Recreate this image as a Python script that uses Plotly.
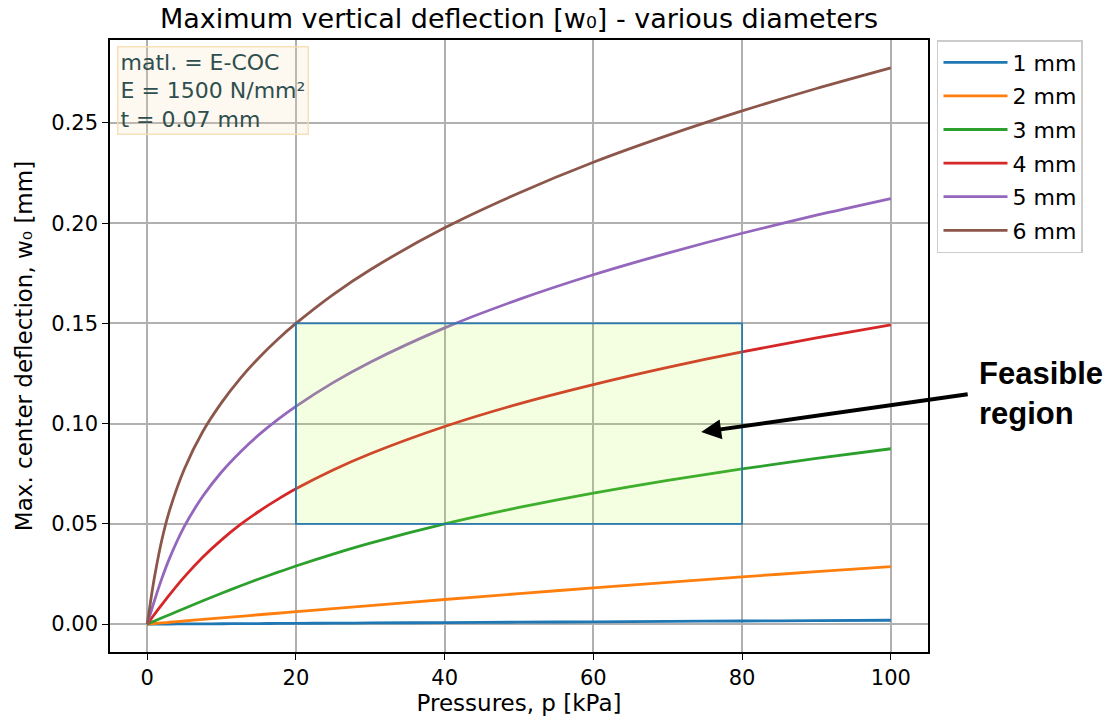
import plotly.graph_objects as go

# Pressures [kPa]
pressure = [0, 0.5, 1, 2, 3, 5, 7.5, 10, 12.5, 15, 17.5, 20, 25, 30, 40, 50, 60, 70, 80, 90, 100]

# Max. center deflection [mm] per diameter
w_1mm = [0, 0.00001, 0.00002, 0.00004, 0.00006, 0.0001, 0.00015, 0.000195, 0.00024, 0.00029, 0.00034,
         0.00039, 0.00049, 0.00058, 0.00078, 0.00097, 0.00117, 0.00136, 0.00156, 0.00175, 0.00195]
w_2mm = [0, 0.000156, 0.00031, 0.00062, 0.00094, 0.00156, 0.00234, 0.00312, 0.0039, 0.00467, 0.00544,
         0.00621, 0.00774, 0.00927, 0.01228, 0.01522, 0.01809, 0.02087, 0.02357, 0.0262, 0.0287]
w_3mm = [0, 0.00079, 0.00158, 0.00316, 0.00472, 0.00784, 0.01167, 0.0154, 0.019, 0.0225, 0.0258,
         0.029, 0.03495, 0.0404, 0.05, 0.0582, 0.0654, 0.0717, 0.0774, 0.0827, 0.0875]
w_4mm = [0, 0.0025, 0.00498, 0.00987, 0.01463, 0.02357, 0.03347, 0.04203, 0.0496, 0.0562, 0.0621,
         0.0675, 0.0769, 0.085, 0.0986, 0.1099, 0.1195, 0.1281, 0.1358, 0.1428, 0.1493]
w_5mm = [0, 0.00606, 0.012, 0.02307, 0.0328, 0.04873, 0.0639, 0.0759, 0.0858, 0.0944, 0.1019,
         0.10866, 0.1205, 0.1307, 0.1478, 0.162, 0.1743, 0.1851, 0.195, 0.204, 0.2123]
w_6mm = [0, 0.01241, 0.02384, 0.04245, 0.05665, 0.07742, 0.0962, 0.1105, 0.1225, 0.1328, 0.1419,
         0.15, 0.1644, 0.1768, 0.1977, 0.2151, 0.2304, 0.2438, 0.256, 0.2672, 0.2775]

series_names = ["1 mm", "2 mm", "3 mm", "4 mm", "5 mm", "6 mm"]
series_values = [w_1mm, w_2mm, w_3mm, w_4mm, w_5mm, w_6mm]
colors = ["#1f77b4", "#ff7f0e", "#2ca02c", "#d62728", "#9467bd", "#8c564b"]

# Feasible region bounds
feasible_p = [20, 80]
feasible_w = [0.05, 0.15]

x_ticks = [0, 20, 40, 60, 80, 100]
y_ticks = [0.0, 0.05, 0.10, 0.15, 0.20, 0.25]

FONT = "DejaVu Sans"

fig = go.Figure()
for i, (name, vals, col) in enumerate(zip(series_names, series_values, colors)):
    fig.add_trace(go.Scatter(
        x=pressure, y=vals, mode="lines", name=name,
        line=dict(color=col, width=2.8, shape="spline", smoothing=0.8),
        legendgroup=f"g{i}",
    ))

fig.add_shape(
    type="rect", xref="x", yref="y",
    x0=feasible_p[0], x1=feasible_p[1], y0=feasible_w[0], y1=feasible_w[1],
    fillcolor="rgba(173,255,47,0.15)",
    line=dict(color="rgba(31,119,180,0.9)", width=1.8),
    layer="above",
)

fig.add_annotation(
    x=74.5, y=0.0958, xref="x", yref="y",
    ax=268, ay=-38, axref="pixel", ayref="pixel",
    text="", showarrow=True, arrowhead=2, arrowsize=1.0, arrowwidth=4,
    arrowcolor="black",
)
fig.add_annotation(
    x=1.06, y=0.423, xref="paper", yref="paper",
    xanchor="left", yanchor="middle", align="left",
    text="<b>Feasible<br>region</b>", showarrow=False,
    font=dict(family="Liberation Sans, Arial", size=31, color="black"),
)

fig.add_annotation(
    x=0.008, y=0.99, xref="paper", yref="paper",
    xanchor="left", yanchor="top", align="left",
    text="matl. = E-COC<br>E = 1500 N/mm²<br>t = 0.07 mm",
    showarrow=False,
    font=dict(family=FONT, size=22, color="#2f4f4f"),
    bgcolor="rgba(245,222,179,0.2)",
    bordercolor="rgba(245,222,179,0.9)", borderwidth=1.5, borderpad=2,
)

axis_common = dict(
    showline=True, linecolor="black", linewidth=1.5, mirror=True,
    ticks="outside", ticklen=6, tickwidth=1.3, tickcolor="black",
    showgrid=True, gridcolor="#b0b0b0", gridwidth=1.5,
    zeroline=False,
    tickfont=dict(family=FONT, size=21, color="black"),
)

fig.update_layout(
    width=1109, height=723,
    margin=dict(l=110, r=181, t=40, b=71),
    paper_bgcolor="white", plot_bgcolor="white",
    title=dict(
        text="Maximum vertical deflection [w₀] - various diameters",
        x=0.468, xanchor="center", y=0.975, yanchor="middle",
        font=dict(family=FONT, size=27, color="black"),
    ),
    xaxis=dict(
        range=[-5, 105], tickvals=x_ticks,
        title=dict(text="Pressures, p [kPa]", font=dict(family=FONT, size=23, color="black"), standoff=4),
        **axis_common,
    ),
    yaxis=dict(
        range=[-0.0139, 0.2914], tickvals=y_ticks, tickformat=".2f",
        title=dict(text="Max. center deflection, w₀ [mm]", font=dict(family=FONT, size=23, color="black"), standoff=12),
        **axis_common,
    ),
    legend=dict(
        x=1.011, y=1.0, xanchor="left", yanchor="top",
        font=dict(family=FONT, size=22, color="black"),
        bordercolor="#cccccc", borderwidth=1.5, bgcolor="white",
        tracegroupgap=2, itemwidth=64,
    ),
    showlegend=True,
)

fig.write_html("out.html")
